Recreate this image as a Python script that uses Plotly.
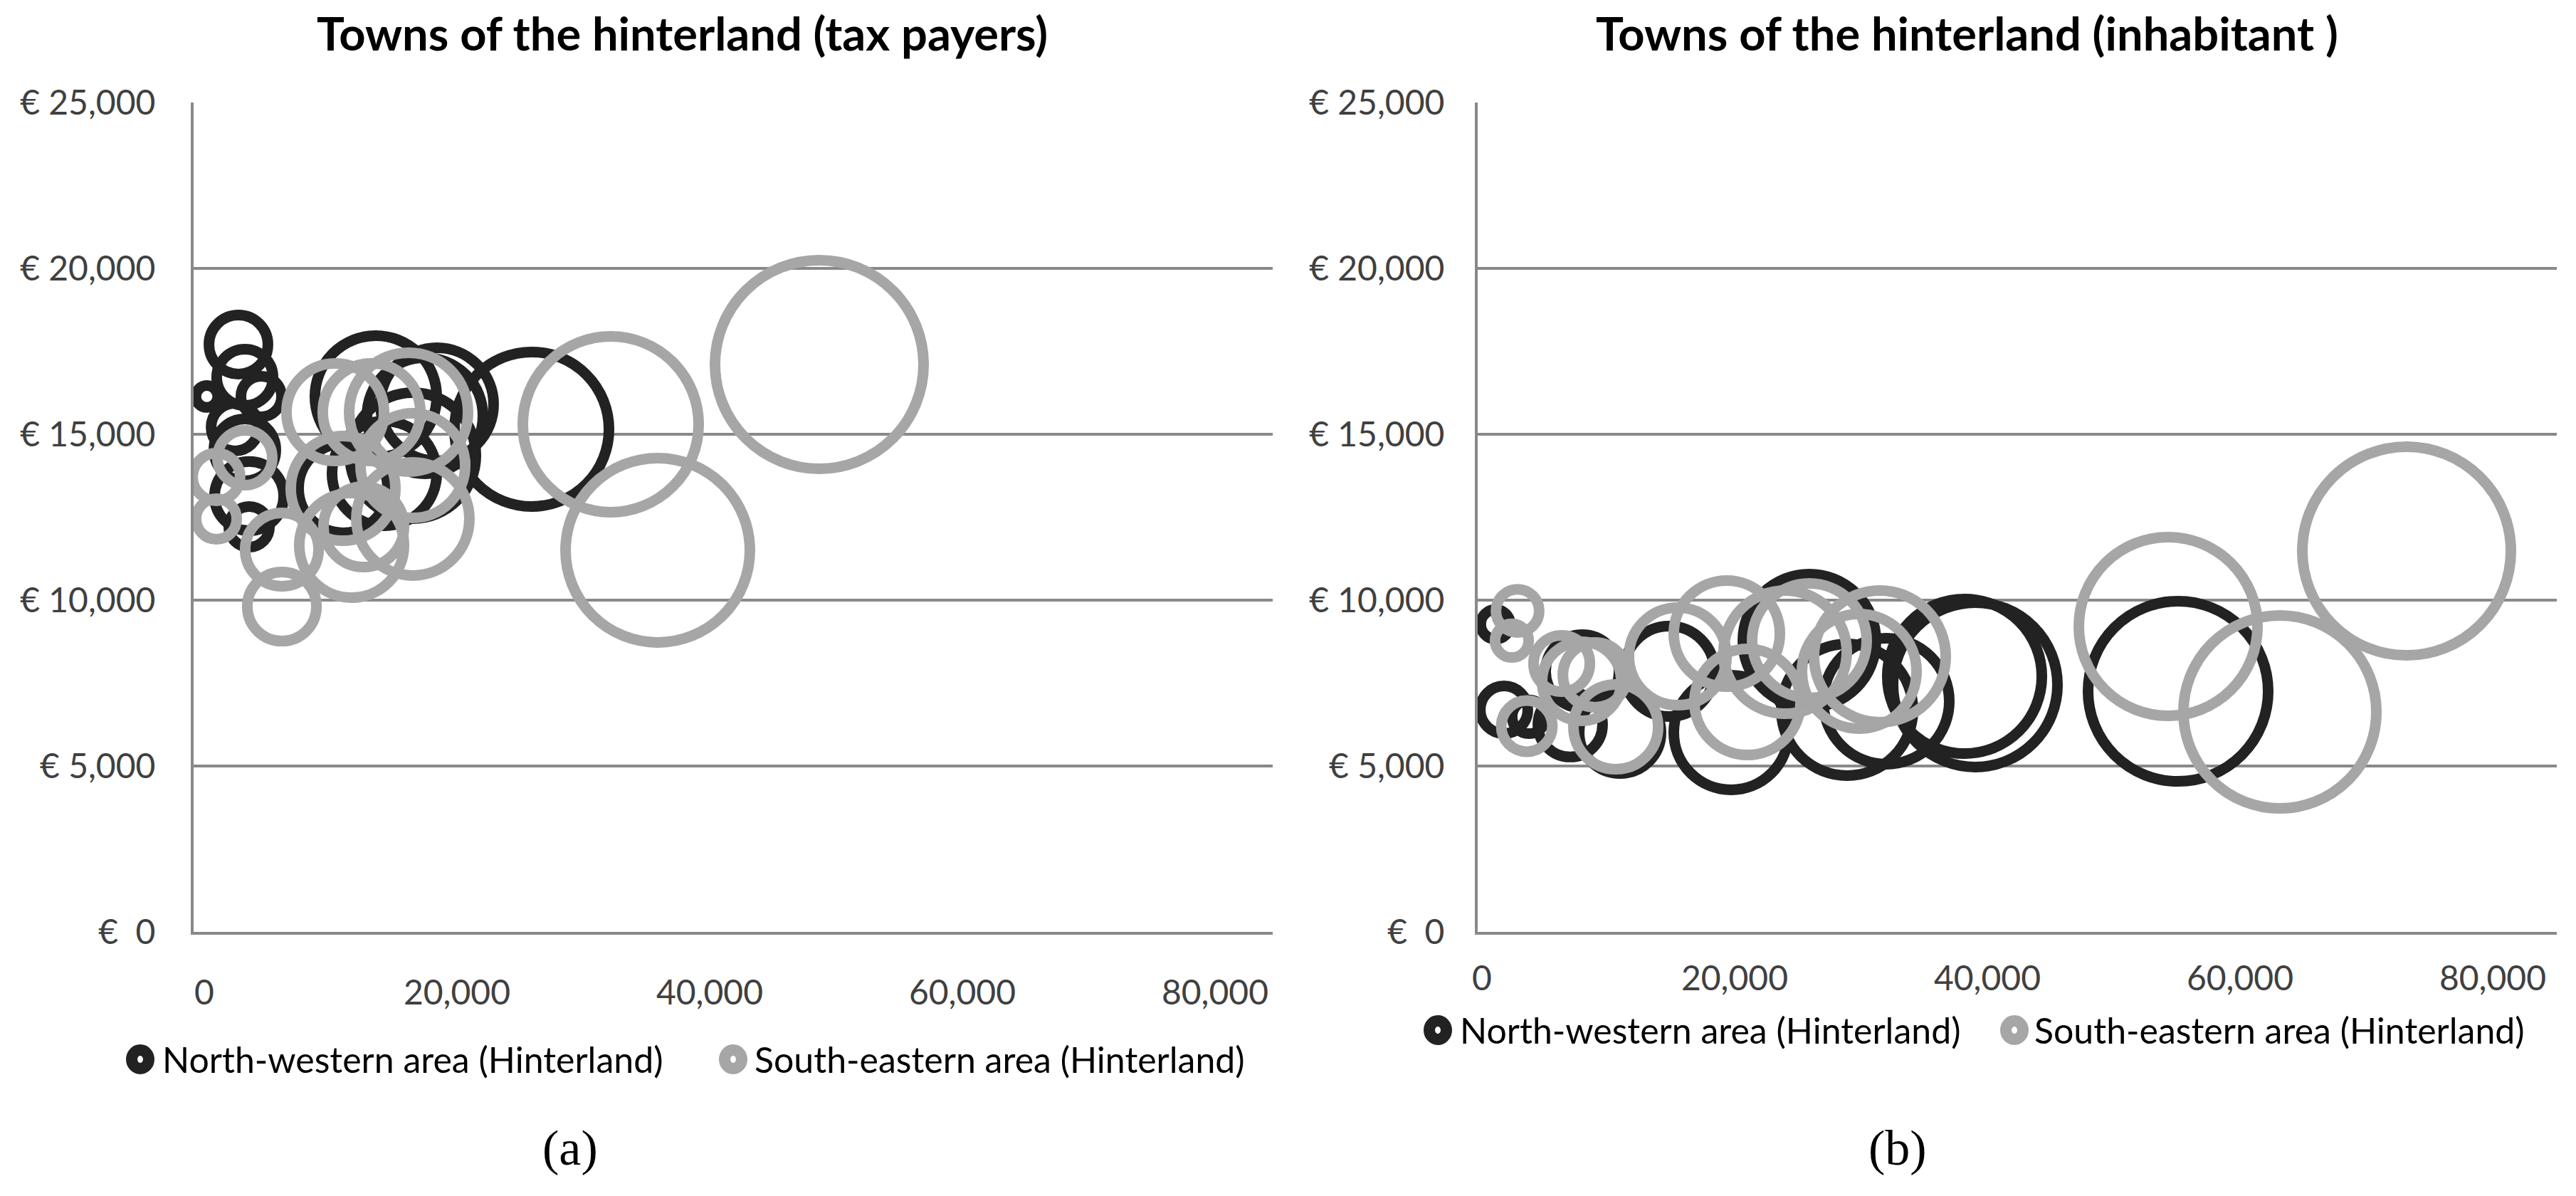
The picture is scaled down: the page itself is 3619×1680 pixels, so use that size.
import plotly.graph_objects as go

# ----------------------------------------------------------------------------------------------------------------------
# data
# x = number of tax payers / inhabitants, y = income (EUR), size = relative bubble size (largest = 100)
# ----------------------------------------------------------------------------------------------------------------------

# (a) towns of the hinterland, per tax payer
nw_tax_x = [200, 2704, 3211, 4507, 3211, 3549, 3549, 13578, 18423, 17465, 25916, 10986, 14254, 2423, 16508]
nw_tax_y = [16138, 17705, 16717, 16138, 14528, 13134, 12211, 16138, 15902, 15558, 15151, 13370, 13820, 15215, 14357]
nw_tax_s = [1.1, 8.0, 7.3, 3.8, 8.8, 11.0, 3.8, 34.1, 29.4, 30.9, 54.9, 18.2, 25.2, 5.2, 36.5]

se_tax_x = [48678, 32170, 35889, 958, 3211, 958, 6141, 6141, 11662, 10367, 13240, 16170, 10986, 16508, 16508, 12620]
se_tax_y = [17104, 15301, 11503, 13713, 14292, 12447, 9807, 11524, 11653, 15666, 15666, 15666, 13370, 14056, 12447, 12211]
se_tax_s = [100, 71.1, 78.1, 5.2, 6.9, 3.8, 11.0, 12.4, 25.2, 21.9, 21.9, 32.5, 25.2, 25.2, 29.4, 14.9]

# (b) towns of the hinterland, per inhabitant
nw_inh_x = [55101, 39044, 38199, 28902, 19719, 25916, 32001, 10930, 6986, 7944, 1747, 1070, 3718, 14817]
nw_inh_y = [7253, 7447, 7704, 6696, 6009, 8777, 6953, 6009, 6245, 7854, 6696, 9271, 6481, 7854]
nw_inh_s = [74.6, 62.2, 54.9, 39.9, 30.2, 40.7, 36.5, 15.4, 9.6, 12.4, 5.2, 2.0, 2.6, 18.8]

se_inh_x = [73186, 54312, 63157, 2817, 2366, 3549, 6310, 8958, 10592, 15494, 19381, 21015, 24001, 25916, 29860,
            31494, 7888]
se_inh_y = [11481, 9206, 6631, 9678, 8777, 6202, 8090, 7747, 6180, 8305, 8992, 6931, 8434, 8777, 7854, 8305, 7554]
se_inh_s = [100, 73.4, 85.6, 4.3, 2.6, 6.0, 7.3, 9.6, 16.5, 21.9, 25.9, 25.9, 34.9, 30.2, 30.2, 39.9, 14.4]

x_ticks = [0, 20000, 40000, 60000, 80000]
x_labels = ["0", "20,000", "40,000", "60,000", "80,000"]
y_ticks = [0, 5000, 10000, 15000, 20000, 25000]
y_labels = ["€\u00a0\u00a00", "€ 5,000", "€ 10,000", "€ 15,000", "€ 20,000", "€ 25,000"]

titles = ["Towns of the hinterland (tax payers)", "Towns of the hinterland (inhabitant )"]
series_names = ["North-western area (Hinterland)", "South-eastern area (Hinterland)"]
captions = ["(a)", "(b)"]

# ----------------------------------------------------------------------------------------------------------------------
# styling
# ----------------------------------------------------------------------------------------------------------------------
W, H = 3619, 1680
BLACK = "#222222"
GREY = "#a6a6a6"
AXIS = "#898989"
FONT = "Lato"
MAX_D = 293  # diameter of the biggest bubble in px
sref = 2.0 * 100 / MAX_D ** 2


def bubbles(x, y, s, color, name, xa, ya):
    return go.Scatter(
        x=x, y=y, mode="markers", name=name, xaxis=xa, yaxis=ya, showlegend=False,
        marker=dict(size=s, sizemode="area", sizeref=sref, color="rgba(0,0,0,0)", opacity=1,
                    line=dict(color=color, width=15)),
        hoverinfo="x+y",
    )


fig = go.Figure()
fig.add_trace(bubbles(nw_tax_x, nw_tax_y, nw_tax_s, BLACK, series_names[0], "x", "y"))
fig.add_trace(bubbles(se_tax_x, se_tax_y, se_tax_s, GREY, series_names[1], "x", "y"))
fig.add_trace(bubbles(nw_inh_x, nw_inh_y, nw_inh_s, BLACK, series_names[0], "x2", "y2"))
fig.add_trace(bubbles(se_inh_x, se_inh_y, se_inh_s, GREY, series_names[1], "x2", "y2"))

tick_font = dict(family=FONT, size=48, color="#404040")


def xaxis(domain, rng, standoff, anchor):
    return dict(domain=domain, range=rng, anchor=anchor, tickvals=x_ticks, ticktext=x_labels,
                showgrid=False, zeroline=False, showline=True, linecolor=AXIS, linewidth=4,
                ticks="", tickfont=tick_font, ticklabelstandoff=standoff, fixedrange=True,
                automargin=False)


def yaxis(domain, standoff, anchor):
    return dict(domain=domain, range=[0, 25000], anchor=anchor, tickvals=y_ticks, ticktext=y_labels,
                showgrid=True, gridcolor=AXIS, gridwidth=4, zeroline=False, showline=True,
                linecolor=AXIS, linewidth=4, ticks="", tickfont=tick_font,
                ticklabelstandoff=standoff, fixedrange=True, automargin=False)


y_dom = [1 - 1309 / H, 1 - 144 / H]
fig.update_layout(
    template="none",
    width=W, height=H,
    margin=dict(l=0, r=0, t=0, b=0, pad=0, autoexpand=False),
    paper_bgcolor="white", plot_bgcolor="white",
    font=dict(family=FONT),
    xaxis=xaxis([272 / W, 1788 / W], [-845, 84566], 40, "y"),
    yaxis=yaxis(y_dom, 40, "x"),
    xaxis2=xaxis([2076 / W, 3592 / W], [-338, 85073], 20, "y2"),
    yaxis2=yaxis(y_dom, 33, "x2"),
    showlegend=False,
)

# chart titles and panel captions
for cx, t in zip([959 / W, 2763 / W], titles):
    fig.add_annotation(x=cx, y=1 - 46 / H, xref="paper", yref="paper", text="<b>%s</b>" % t,
                       showarrow=False, font=dict(family=FONT, size=65, color="black"),
                       xanchor="center", yanchor="middle")
for cx, c in zip([801 / W, 2666 / W], captions):
    fig.add_annotation(x=cx, y=1 - 1612 / H, xref="paper", yref="paper", text=c,
                       showarrow=False, font=dict(family="Liberation Serif", size=70, color="black"),
                       xanchor="center", yanchor="middle")

# legends under each chart: thick ring icon + label
legend_rows = [
    (1488, [(197, 226), (1030, 1058)]),
    (1447, [(2020, 2049), (2830, 2856)]),
]
for ly, items in legend_rows:
    for (ix, tx), name, col in zip(items, series_names, [BLACK, GREY]):
        fig.add_shape(type="circle", xref="paper", yref="paper",
                      x0=(ix - 12) / W, x1=(ix + 12) / W, y0=1 - (ly + 13) / H, y1=1 - (ly - 13) / H,
                      line=dict(color=col, width=16), fillcolor="rgba(0,0,0,0)")
        fig.add_annotation(x=tx / W, y=1 - ly / H, xref="paper", yref="paper", text=name,
                           showarrow=False, font=dict(family=FONT, size=50, color="black"),
                           xanchor="left", yanchor="middle")

# no page margin around the figure, no modebar
fig.write_html("out.html", config={"displayModeBar": False},
               post_script="document.body.style.margin='0px';")
